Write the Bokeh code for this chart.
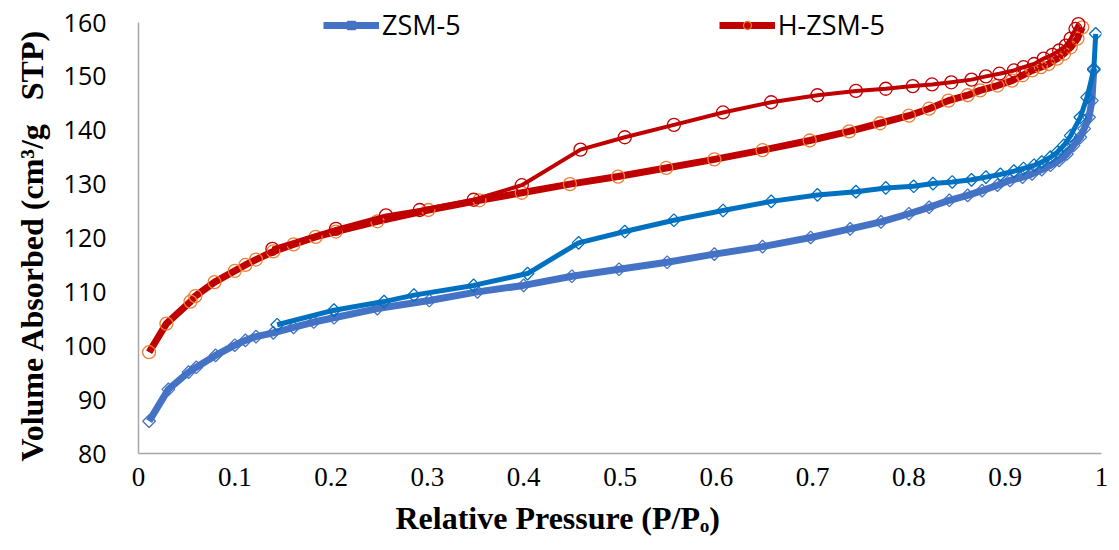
import numpy as np
from bokeh.plotting import figure
from bokeh.models import Legend, LegendItem, FixedTicker, Range1d, Title
from bokeh.embed import file_html
from bokeh.resources import INLINE

# ---- data ----
zsm_ads_x = [0.011, 0.031, 0.052, 0.060, 0.080, 0.100, 0.111, 0.122, 0.140, 0.161, 0.182, 0.203,
             0.248, 0.302, 0.352, 0.400, 0.450, 0.499, 0.549, 0.598, 0.648, 0.698, 0.739, 0.771,
             0.800, 0.821, 0.842, 0.861, 0.876, 0.892, 0.905, 0.918, 0.928, 0.938, 0.947, 0.956,
             0.964, 0.971, 0.978, 0.982, 0.987, 0.990, 0.992]
zsm_ads_y = [86.0, 91.9, 95.1, 96.0, 98.2, 100.1, 101.0, 101.7, 102.4, 103.4, 104.4, 105.2,
             106.9, 108.4, 110.0, 111.2, 112.9, 114.2, 115.5, 117.0, 118.4, 120.1, 121.7, 123.0,
             124.5, 125.7, 127.0, 127.9, 128.8, 129.8, 130.7, 131.3, 131.9, 132.7, 133.5, 134.4,
             135.6, 137.2, 138.7, 140.3, 142.4, 145.5, 151.4]

zsm_des_x = [0.994, 0.992, 0.985, 0.978, 0.968, 0.961, 0.954, 0.947, 0.938, 0.930, 0.919, 0.909,
             0.895, 0.880, 0.865, 0.845, 0.825, 0.805, 0.776, 0.745, 0.705, 0.657, 0.607, 0.556,
             0.505, 0.457, 0.404, 0.348, 0.286, 0.255, 0.203, 0.144]
zsm_des_y = [157.9, 151.2, 146.1, 142.4, 139.0, 137.2, 135.9, 135.0, 134.1, 133.5, 132.9, 132.4,
             131.8, 131.3, 130.8, 130.4, 130.1, 129.6, 129.3, 128.6, 128.0, 126.8, 125.1, 123.3,
             121.2, 119.1, 113.4, 111.2, 109.4, 108.2, 106.6, 103.9]

hzsm_ads_x = [0.011, 0.029, 0.054, 0.059, 0.079, 0.100, 0.111, 0.122, 0.140, 0.161, 0.184, 0.205,
              0.248, 0.301, 0.354, 0.398, 0.448, 0.498, 0.548, 0.598, 0.648, 0.697, 0.738, 0.770,
              0.800, 0.821, 0.841, 0.861, 0.874, 0.892, 0.907, 0.918, 0.928, 0.937, 0.945, 0.954,
              0.961, 0.968, 0.975, 0.980]
hzsm_ads_y = [98.8, 104.1, 108.2, 109.2, 111.8, 113.9, 115.0, 116.0, 117.5, 118.8, 120.2, 121.2,
              123.1, 125.2, 127.0, 128.4, 130.0, 131.4, 133.0, 134.6, 136.3, 138.1, 139.8, 141.3,
              142.7, 144.0, 145.5, 146.5, 147.4, 148.3, 149.2, 150.2, 151.1, 151.7, 152.3, 153.3,
              154.2, 155.4, 157.0, 159.1]

hzsm_des_x = [0.976, 0.973, 0.968, 0.963, 0.956, 0.949, 0.940, 0.930, 0.919, 0.909, 0.894, 0.880,
              0.865, 0.844, 0.824, 0.804, 0.776, 0.745, 0.705, 0.657, 0.607, 0.556, 0.505, 0.459,
              0.398, 0.348, 0.292, 0.257, 0.205, 0.139]
hzsm_des_y = [159.7, 158.8, 157.0, 155.7, 154.8, 154.0, 153.3, 152.3, 151.7, 151.1, 150.5, 150.0,
              149.4, 148.9, 148.5, 148.2, 147.7, 147.3, 146.5, 145.2, 143.3, 141.0, 138.7, 136.4,
              129.8, 127.1, 125.2, 124.2, 121.7, 118.0]

series_names = ["ZSM-5", "H-ZSM-5"]
x_ticks = [0, 0.1, 0.2, 0.3, 0.4, 0.5, 0.6, 0.7, 0.8, 0.9, 1]
x_tick_labels = ["0", "0.1", "0.2", "0.3", "0.4", "0.5", "0.6", "0.7", "0.8", "0.9", "1"]
y_ticks = [80, 90, 100, 110, 120, 130, 140, 150, 160]
x_title = "Relative Pressure (P/Pₒ)"
y_title = "Volume Absorbed (cm³/g\u00a0\u00a0 STP)"

# ---- figure ----
Y_MIN, Y_MAX = 80, 160
top_pad_px, frame_h = 22, 453
y_end = Y_MAX + top_pad_px * (Y_MAX - Y_MIN) / (frame_h - top_pad_px)

p = figure(width=1119, height=550, output_backend="svg", toolbar_location=None,
           x_range=Range1d(0, 1), y_range=Range1d(Y_MIN, y_end),
           min_border_left=138, min_border_right=18, min_border_top=0, min_border_bottom=97)
p.outline_line_color = None
p.xgrid.visible = False
p.ygrid.visible = False
p.background_fill_color = "white"
p.border_fill_color = "white"

for ax in (p.xaxis[0], p.yaxis[0]):
    ax.axis_line_color = "#A6A6A6"
    ax.axis_line_width = 1.5
    ax.major_tick_line_color = None
    ax.minor_tick_line_color = None
    ax.major_label_text_color = "black"

p.yaxis.bounds = (Y_MIN, Y_MAX)

p.xaxis.ticker = FixedTicker(ticks=x_ticks)
p.xaxis.major_label_overrides = {t: l for t, l in zip(x_ticks, x_tick_labels)}
p.xaxis.major_label_text_font = "Liberation Sans Narrow"
p.xaxis.major_label_text_font_size = "27px"
p.xaxis.major_label_standoff = 8

p.yaxis.ticker = FixedTicker(ticks=y_ticks)
p.yaxis.major_label_text_font = "Open Sans"
p.yaxis.major_label_text_font_size = "25px"
p.yaxis.major_label_standoff = 26

p.add_layout(Title(text=x_title, align="left", offset=257, standoff=19,
                   text_font="Liberation Serif", text_font_style="bold",
                   text_font_size="32px", text_color="black"), "below")
p.add_layout(Title(text=y_title, align="left", offset=-8, standoff=21,
                   text_font="Liberation Serif", text_font_style="bold",
                   text_font_size="32px", text_color="black"), "left")

ang = np.pi / 4
# ZSM-5 adsorption
l1 = p.line(zsm_ads_x, zsm_ads_y, line_color="#4472C4", line_width=7, line_join="round")
m1 = p.scatter(zsm_ads_x, zsm_ads_y, marker="square", angle=ang, size=9, fill_alpha=0,
               line_color="#4472C4", line_width=1.3)
# ZSM-5 desorption
l2 = p.line(zsm_des_x, zsm_des_y, line_color="#0070C0", line_width=5, line_join="round")
m2 = p.scatter(zsm_des_x, zsm_des_y, marker="square", angle=ang, size=9, fill_alpha=0,
               line_color="#0070C0", line_width=1.3)
# H-ZSM-5 adsorption
l3 = p.line(hzsm_ads_x, hzsm_ads_y, line_color="#C00000", line_width=7, line_join="round")
m3 = p.scatter(hzsm_ads_x, hzsm_ads_y, marker="circle", size=13, fill_alpha=0,
               line_color="#ED7D31", line_width=1.3)
# H-ZSM-5 desorption
l4 = p.line(hzsm_des_x, hzsm_des_y, line_color="#C00000", line_width=4, line_join="round")
m4 = p.scatter(hzsm_des_x, hzsm_des_y, marker="circle", size=13, fill_alpha=0,
               line_color="#C00000", line_width=1.3)

legend = Legend(items=[LegendItem(label=series_names[0], renderers=[l1, m1]),
                       LegendItem(label=series_names[1], renderers=[l3, m3])],
                orientation="horizontal", location=(185, 410),
                glyph_width=56, glyph_height=20, label_standoff=3, spacing=258,
                padding=0, margin=0, border_line_color=None, background_fill_alpha=0,
                label_text_font="Open Sans", label_text_font_size="27px",
                label_text_color="black")
p.add_layout(legend, "center")

open("out.html", "w").write(file_html(p, INLINE))
